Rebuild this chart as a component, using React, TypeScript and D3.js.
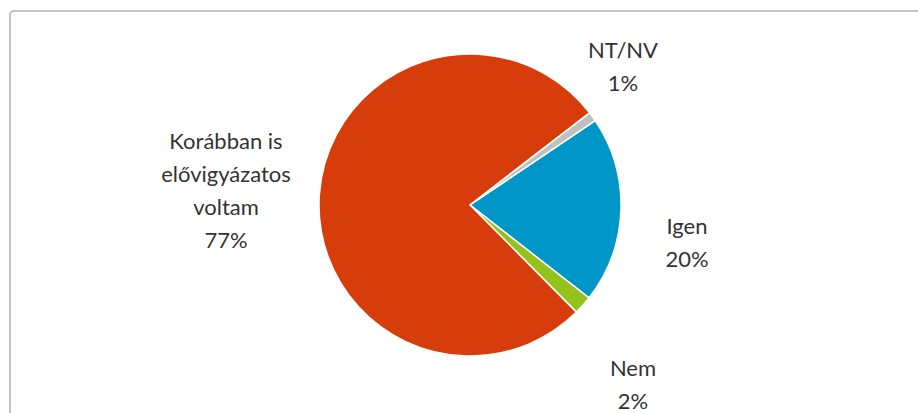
import React from "react";
import * as d3 from "d3";

const categories = ["Igen", "Nem", "Korábban is elővigyázatos voltam", "NT/NV"];
const values = [20, 2, 77, 1];
const labelLines = [["Igen", "20%"], ["Nem", "2%"], ["Korábban is", "elővigyázatos", "voltam", "77%"], ["NT/NV", "1%"]];
const colors = ["#0096C8", "#94C11C", "#D63D0A", "#C0C0C0"];

// layout (label centres relative to pie centre, px)
const labelLayout: [number, number][] = [[217, 37], [163, 179], [-244, -15], [153, -139]];

const W = 918, H = 413;
const cx = 470, cy = 205, R = 151;
const startOffset = (56 * Math.PI) / 180;
const lineH = 33;

export default function App() {
  const pie = d3.pie<number>().sort(null).value((d) => d)
    .startAngle(startOffset).endAngle(startOffset + 2 * Math.PI);
  const arcs = pie(values);
  const arc = d3.arc<d3.PieArcDatum<number>>().innerRadius(0).outerRadius(R);
  return (
    <svg width={W} height={H} style={{ position: "absolute", left: 0, top: 0, background: "#fff" }}
      fontFamily="Lato, 'Open Sans', sans-serif">
      <rect x={10} y={11} width={960} height={460} rx={4} fill="#fff" stroke="#C4C4C4" strokeWidth={2} />
      <g transform={`translate(${cx},${cy})`}>
        {arcs.map((a, i) => (
          <path key={categories[i]} d={arc(a) || ""} fill={colors[i]} stroke="#fff" strokeWidth={1.5} strokeLinejoin="round" />
        ))}
        {arcs.map((a, i) => {
          const lines = labelLines[i];
          const [lx, ly] = labelLayout[i];
          const y0 = ly - ((lines.length - 1) * lineH) / 2;
          return (
            <text key={"l" + i} x={lx} textAnchor="middle" fontSize={22} fill="#333">
              {lines.map((t, j) => (
                <tspan key={j} x={lx} y={y0 + j * lineH} dominantBaseline="central">{t}</tspan>
              ))}
            </text>
          );
        })}
      </g>
    </svg>
  );
}
